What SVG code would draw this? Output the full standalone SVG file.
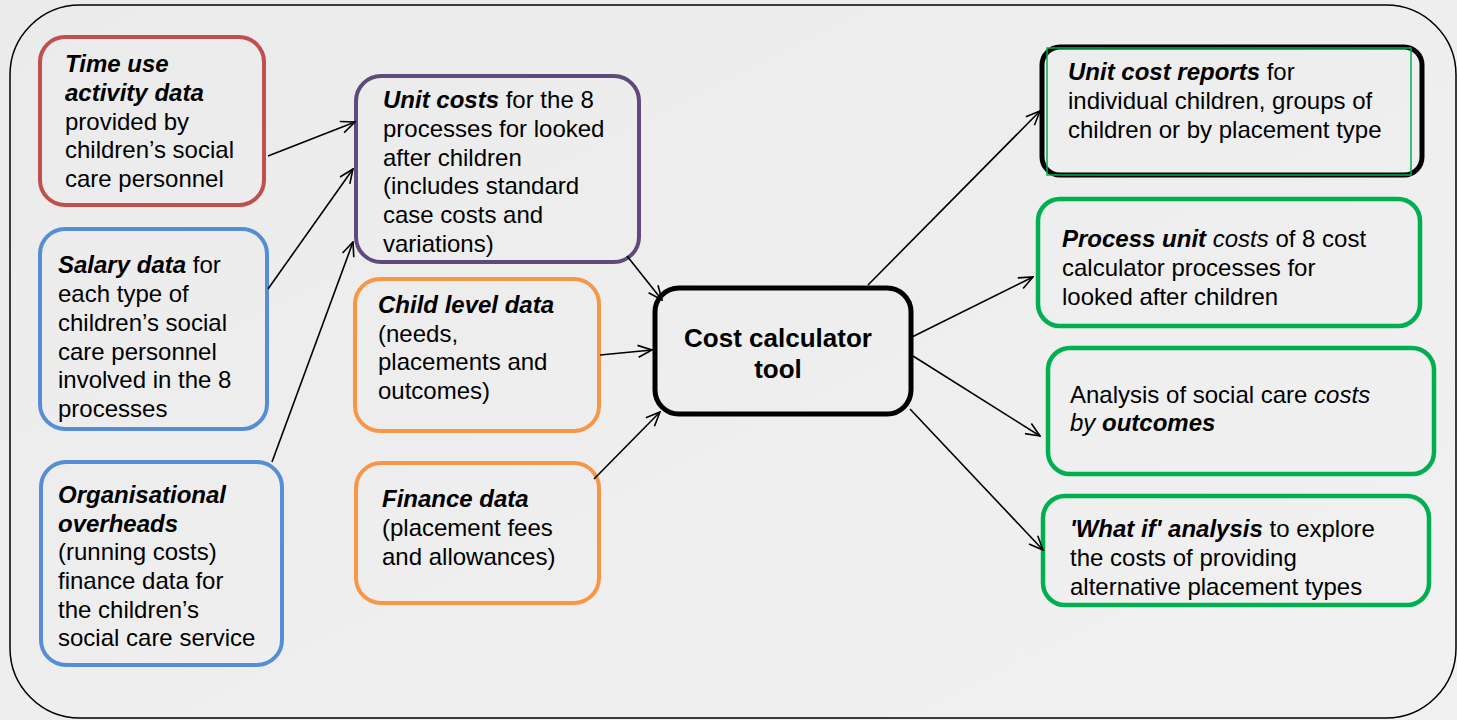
<svg xmlns="http://www.w3.org/2000/svg" width="1457" height="720" viewBox="0 0 1457 720">
<defs>
<linearGradient id="bg" x1="0" y1="0" x2="1" y2="1">
<stop offset="0" stop-color="#ebebeb"/>
<stop offset="0.5" stop-color="#eeeeee"/>
<stop offset="1" stop-color="#f1f1f1"/>
</linearGradient>
<marker id="arr" viewBox="0 0 16 16" markerUnits="userSpaceOnUse" markerWidth="16" markerHeight="16" refX="15" refY="8" orient="auto">
<path d="M1,2 L15,8 L1,14" fill="none" stroke="#000" stroke-width="1.6"/>
</marker>
</defs>
<style>
.box{fill:none;stroke-width:4}
.red{stroke:#c0504d}
.blue{stroke:#558ed5}
.purple{stroke:#604a7b}
.orange{stroke:#f79646}
.green{stroke:#00b050;stroke-width:4.5}
.t{font-family:"Liberation Sans",Arial,sans-serif;font-size:24px;fill:#000}
.b{font-weight:bold;font-style:italic}
.i{font-style:italic}
.conn line{stroke:#000;stroke-width:1.6;marker-end:url(#arr)}
</style>
<rect x="0" y="0" width="1457" height="720" fill="url(#bg)"/>
<rect x="10" y="5" width="1446" height="713" rx="70" fill="none" stroke="#000" stroke-width="1.5"/>

<g id="time-use">
<rect class="box red" x="40" y="37" width="224" height="168" rx="25"/>
<text class="t" x="65"><tspan x="65" y="72" class="b">Time use</tspan><tspan x="65" y="101" class="b">activity data</tspan><tspan x="65" y="130">provided by</tspan><tspan x="65" y="158">children’s social</tspan><tspan x="65" y="187">care personnel</tspan></text>
</g>

<g id="salary">
<rect class="box blue" x="40" y="229" width="227" height="200" rx="25"/>
<text class="t"><tspan x="58" y="273"><tspan class="b">Salary data</tspan> for</tspan><tspan x="58" y="302">each type of</tspan><tspan x="58" y="331">children’s social</tspan><tspan x="58" y="360">care personnel</tspan><tspan x="58" y="388">involved in the 8</tspan><tspan x="58" y="417">processes</tspan></text>
</g>

<g id="overheads">
<rect class="box blue" x="41" y="462" width="241" height="203" rx="25"/>
<text class="t"><tspan x="58" y="503" class="b">Organisational</tspan><tspan x="58" y="532" class="b">overheads</tspan><tspan x="58" y="560">(running costs)</tspan><tspan x="58" y="589">finance data for</tspan><tspan x="58" y="618">the children’s</tspan><tspan x="58" y="646">social care service</tspan></text>
</g>

<g id="unit-costs">
<rect class="box purple" x="356" y="76" width="283" height="186" rx="25"/>
<text class="t"><tspan x="383" y="108"><tspan class="b">Unit costs</tspan> for the 8</tspan><tspan x="383" y="137">processes for looked</tspan><tspan x="383" y="166">after children</tspan><tspan x="383" y="194">(includes standard</tspan><tspan x="383" y="223">case costs and</tspan><tspan x="383" y="252">variations)</tspan></text>
</g>

<g id="child-level">
<rect class="box orange" x="355" y="279" width="244" height="152" rx="25"/>
<text class="t"><tspan x="378" y="313" class="b">Child level data</tspan><tspan x="378" y="342">(needs,</tspan><tspan x="378" y="370">placements and</tspan><tspan x="378" y="399">outcomes)</tspan></text>
</g>

<g id="finance">
<rect class="box orange" x="356" y="463" width="243" height="140" rx="25"/>
<text class="t"><tspan x="382" y="507" class="b">Finance data</tspan><tspan x="382" y="536">(placement fees</tspan><tspan x="382" y="565">and allowances)</tspan></text>
</g>

<g id="cost-tool">
<rect x="655" y="288" width="256" height="126" rx="24" fill="none" stroke="#000" stroke-width="5"/>
<text class="t" text-anchor="middle" style="font-weight:bold;font-size:26px"><tspan x="778" y="347">Cost calculator</tspan><tspan x="778" y="378">tool</tspan></text>
</g>

<g id="unit-cost-reports">
<rect x="1042" y="47" width="380" height="128" rx="18" fill="none" stroke="#000" stroke-width="5"/>
<rect x="1047" y="48" width="364" height="127" fill="none" stroke="#00b050" stroke-width="1.5"/>
<text class="t"><tspan x="1068" y="80"><tspan class="b">Unit cost reports</tspan> for</tspan><tspan x="1068" y="109">individual children, groups of</tspan><tspan x="1068" y="138">children or by placement type</tspan></text>
</g>

<g id="process-unit-costs">
<rect class="box green" x="1038" y="199" width="382" height="127" rx="22"/>
<text class="t"><tspan x="1062" y="247"><tspan class="b">Process unit</tspan> <tspan class="i">costs</tspan> of 8 cost</tspan><tspan x="1062" y="276">calculator processes for</tspan><tspan x="1062" y="305">looked after children</tspan></text>
</g>

<g id="analysis">
<rect class="box green" x="1048" y="348" width="386" height="126" rx="22"/>
<text class="t"><tspan x="1070" y="403">Analysis of social care <tspan class="i">costs</tspan></tspan><tspan x="1070" y="431"><tspan class="i">by </tspan><tspan class="b">outcomes</tspan></tspan></text>
</g>

<g id="what-if">
<rect class="box green" x="1043" y="496" width="386" height="109" rx="22"/>
<text class="t"><tspan x="1070" y="537"><tspan class="b">'What if' analysis</tspan> to explore</tspan><tspan x="1070" y="566">the costs of providing</tspan><tspan x="1070" y="595">alternative placement types</tspan></text>
</g>

<g id="connectors" class="conn">
<line x1="268" y1="156" x2="355" y2="122"/>
<line x1="268" y1="289" x2="353" y2="169"/>
<line x1="272" y1="462" x2="353" y2="242"/>
<line x1="627" y1="256" x2="662" y2="300"/>
<line x1="600" y1="355" x2="652" y2="350"/>
<line x1="594" y1="479" x2="660" y2="412"/>
<line x1="868" y1="285" x2="1040" y2="111"/>
<line x1="912" y1="337" x2="1033" y2="277"/>
<line x1="913" y1="356" x2="1040" y2="436"/>
<line x1="910" y1="409" x2="1043" y2="550"/>
</g>
</svg>
